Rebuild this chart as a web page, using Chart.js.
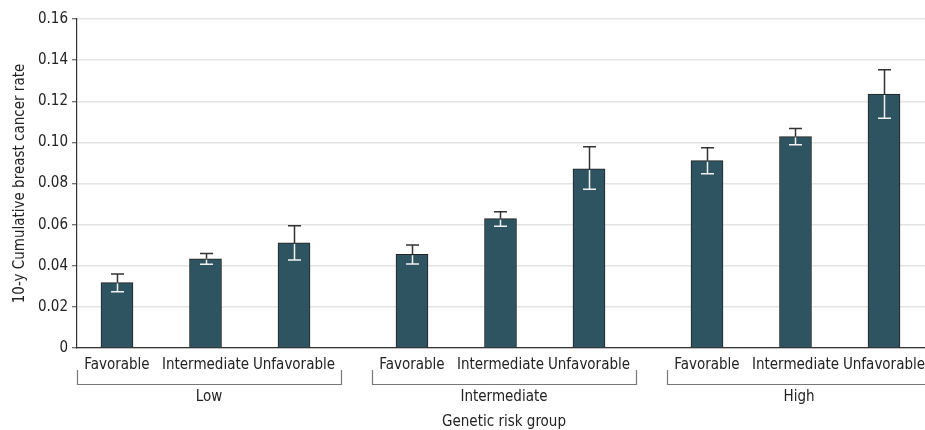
<!DOCTYPE html>
<html>
<head>
<meta charset="utf-8">
<script src="https://cdn.jsdelivr.net/npm/chart.js@4/dist/chart.umd.min.js"></script>
<style>
  html, body { margin: 0; padding: 0; background: #fff; }
  #wrap { width: 925px; height: 430px; position: relative; }
</style>
</head>
<body>
<div id="wrap"><canvas id="chart"></canvas></div>
<script>
// Data
const groups     = ["Low", "Intermediate", "High"];
const profiles   = ["Favorable", "Intermediate", "Unfavorable"];
const rates      = [0.0318, 0.0434, 0.0511, 0.0456, 0.0629, 0.0871, 0.0911, 0.1028, 0.1235];
const ciLow      = [0.0274, 0.0407, 0.0428, 0.0409, 0.0592, 0.0772, 0.0848, 0.0989, 0.1117];
const ciHigh     = [0.0360, 0.0459, 0.0595, 0.0501, 0.0663, 0.0979, 0.0974, 0.1067, 0.1353];
const yTicks     = [0, 0.02, 0.04, 0.06, 0.08, 0.10, 0.12, 0.14, 0.16];
const yTickText  = ["0", "0.02", "0.04", "0.06", "0.08", "0.10", "0.12", "0.14", "0.16"];

const GROUP_GAP = 1 / 3;   // extra slot space between risk groups
const FONT = "'DejaVu Sans Condensed', 'DejaVu Sans', sans-serif";

// slot position of each bar along the linear x axis
const slotOf = (g, i) => g * (profiles.length + GROUP_GAP) + i;
const points = [];
groups.forEach((g, gi) => profiles.forEach((p, pi) => {
  const k = gi * profiles.length + pi;
  points.push({ x: slotOf(gi, pi), y: rates[k] });
}));

// error bars + category labels + group brackets
const annotate = {
  id: "annotate",
  afterDatasetsDraw(chart) {
    const { ctx, scales: { x, y } } = chart;
    const bottom = y.getPixelForValue(0);
    ctx.save();

    // error bars: dark above the bar, white inside it
    points.forEach((pt, k) => {
      const cx  = Math.round(x.getPixelForValue(pt.x)) + 0.5;
      const top = y.getPixelForValue(pt.y);
      const hi  = y.getPixelForValue(ciHigh[k]);
      const lo  = y.getPixelForValue(ciLow[k]);
      ctx.lineWidth = 1.5;
      ctx.strokeStyle = "#333";
      ctx.beginPath();
      ctx.moveTo(cx, hi); ctx.lineTo(cx, top);
      ctx.moveTo(cx - 6.5, hi); ctx.lineTo(cx + 6.5, hi);
      ctx.stroke();
      ctx.strokeStyle = "#f2f2f2";
      ctx.beginPath();
      ctx.moveTo(cx, top + 1); ctx.lineTo(cx, lo);
      ctx.moveTo(cx - 6.5, lo); ctx.lineTo(cx + 6.5, lo);
      ctx.stroke();
    });

    ctx.fillStyle = "#222";
    ctx.font = "15px " + FONT;
    ctx.textAlign = "center";
    ctx.textBaseline = "middle";
    points.forEach((pt, k) => {
      ctx.fillText(profiles[k % profiles.length], x.getPixelForValue(pt.x), bottom + 17);
    });

    // brackets under each risk group
    ctx.strokeStyle = "#777";
    ctx.lineWidth = 1.2;
    groups.forEach((g, gi) => {
      const l = Math.round(x.getPixelForValue(slotOf(gi, 0) - 0.45)) + 0.5;
      const r = Math.round(x.getPixelForValue(slotOf(gi, 2) + 0.53)) + 0.5;
      const yb = bottom + 36.5;
      ctx.beginPath();
      ctx.moveTo(l, bottom + 22); ctx.lineTo(l, yb); ctx.lineTo(r, yb); ctx.lineTo(r, bottom + 22);
      ctx.stroke();
      ctx.fillText(g, x.getPixelForValue(slotOf(gi, 1)) + 3.5, bottom + 49);
    });

    ctx.fillText("Genetic risk group", x.getPixelForValue(slotOf(1, 1)) + 3.5, bottom + 74);
    ctx.restore();
  }
};

new Chart(document.getElementById("chart"), {
  type: "bar",
  data: {
    datasets: [{
      data: points,
      backgroundColor: "#2e5461",
      borderColor: "#222",
      borderWidth: 1,
      barThickness: 32,
    }]
  },
  options: {
    responsive: true,
    maintainAspectRatio: false,
    animation: false,
    layout: { padding: { top: 19, right: 0, bottom: 0, left: 0 } },
    plugins: { legend: { display: false }, tooltip: { enabled: false } },
    scales: {
      x: {
        type: "linear",
        offset: false,
        min: -0.452,
        max: 9.13,
        ticks: { display: false },
        grid: { display: false },
        border: { display: true, color: "#333", width: 1.2 },
        afterFit: s => { s.height = 82; },
      },
      y: {
        min: 0,
        max: 0.16,
        afterBuildTicks: s => { s.ticks = yTicks.map(v => ({ value: v })); },
        ticks: {
          color: "#222",
          font: { family: FONT, size: 15 },
          padding: 4,
          callback: (v, i) => yTickText[i],
        },
        grid: { color: "#e4e4e4", lineWidth: 1.5, tickLength: 5, tickColor: "#444", tickWidth: 1 },
        border: { display: true, color: "#333", width: 1.2 },
        title: {
          display: true,
          text: "10-y Cumulative breast cancer rate",
          color: "#222",
          font: { family: FONT, size: 15 },
          padding: { top: 11, bottom: 4 },
        },
        afterFit: s => { s.width = 77; },
      }
    }
  },
  plugins: [annotate]
});
</script>
</body>
</html>
